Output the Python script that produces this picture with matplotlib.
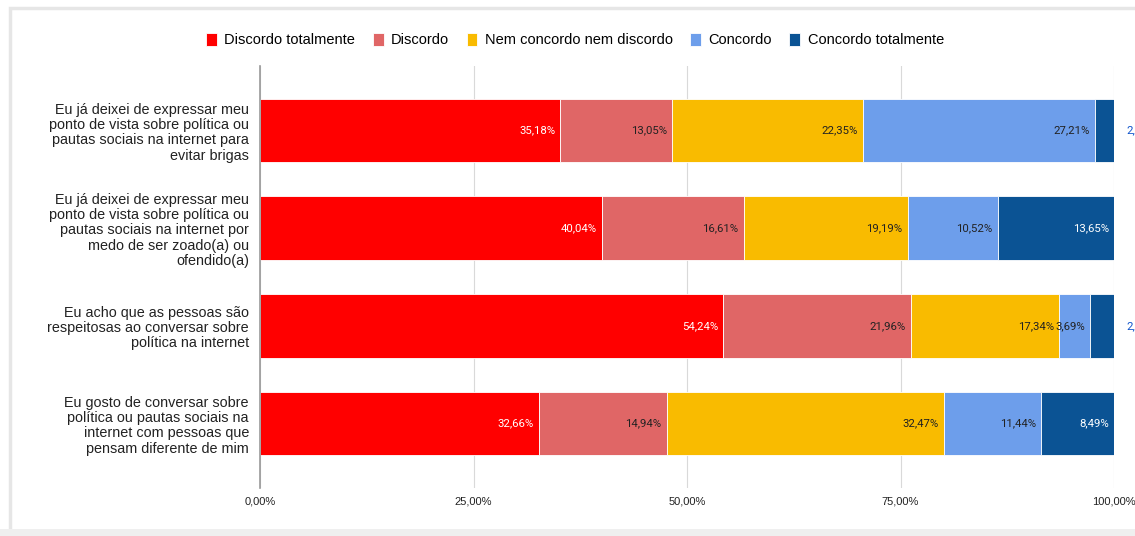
import matplotlib.pyplot as plt
from matplotlib.patches import Rectangle

# Data
perguntas = [
    "Eu já deixei de expressar meu\nponto de vista sobre política ou\npautas sociais na internet para\nevitar brigas",
    "Eu já deixei de expressar meu\nponto de vista sobre política ou\npautas sociais na internet por\nmedo de ser zoado(a) ou\nofendido(a)",
    "Eu acho que as pessoas são\nrespeitosas ao conversar sobre\npolítica na internet",
    "Eu gosto de conversar sobre\npolítica ou pautas sociais na\ninternet com pessoas que\npensam diferente de mim",
]
respostas = ["Discordo totalmente", "Discordo", "Nem concordo nem discordo",
             "Concordo", "Concordo totalmente"]
discordo_totalmente = [35.18, 40.04, 54.24, 32.66]
discordo = [13.05, 16.61, 21.96, 14.94]
neutro = [22.35, 19.19, 17.34, 32.47]
concordo = [27.21, 10.52, 3.69, 11.44]
concordo_totalmente = [2.21, 13.65, 2.77, 8.49]

series = [discordo_totalmente, discordo, neutro, concordo, concordo_totalmente]
cores = ["#ff0000", "#e06666", "#f9bb00", "#6d9eeb", "#0b5394"]
cores_texto = ["white", "#222222", "#222222", "#222222", "white"]

plt.rcParams['font.family'] = ['Liberation Sans', 'DejaVu Sans']

fig = plt.figure(figsize=(11.35, 5.36), dpi=100)
W, H = 1135, 536

# page frame around the chart
fig.patches.append(Rectangle((10 / W, 0), 1.2, 528 / H, transform=fig.transFigure,
                             facecolor="none", edgecolor="#e6e6e6", lw=2.5, zorder=0))
fig.patches.append(Rectangle((0, 0), 1, 7 / H, transform=fig.transFigure,
                             facecolor="#efefef", edgecolor="none", zorder=0))

ax = fig.add_axes([260 / W, 1 - 488 / H, (1114 - 260) / W, (488 - 66) / H])

y = list(range(len(perguntas)))
esquerda = [0] * len(perguntas)
for nome, vals, cor, ct in zip(respostas, series, cores, cores_texto):
    ax.barh(y, vals, left=esquerda, height=0.65, color=cor, label=nome,
            edgecolor="white", linewidth=0.6, zorder=3)
    for i, v in enumerate(vals):
        txt = f"{v:.2f}%".replace(".", ",")
        fim = esquerda[i] + v
        if v < 3:
            # small segments get their label outside the bar (cut at the edge)
            ax.text(101.4, i, txt, ha="left", va="center", fontsize=8.2,
                    color="#1155cc", family="Roboto", clip_on=False, zorder=4)
        else:
            ax.text(fim - 0.6, i, txt, ha="right", va="center", fontsize=8.2,
                    color=ct, family="Roboto", zorder=4)
    esquerda = [e + v for e, v in zip(esquerda, vals)]

ax.set_xlim(0, 100)
ax.set_ylim(3.66, -0.66)
ax.set_yticks(y)
ax.set_yticklabels(perguntas, fontsize=10.4, linespacing=1.12, color="#222222")
ax.set_xticks([0, 25, 50, 75, 100])
ax.set_xticklabels(["0,00%", "25,00%", "50,00%", "75,00%", "100,00%"],
                   fontsize=8, color="#222222")
ax.tick_params(axis="y", length=0, pad=8)
ax.tick_params(axis="x", length=0, pad=6)
ax.grid(axis="x", color="#d9d9d9", linewidth=0.8, zorder=0)
for s in ["top", "right", "bottom"]:
    ax.spines[s].set_visible(False)
ax.spines["left"].set_color("#999999")
ax.spines["left"].set_linewidth(1.2)
ax.spines["left"].set_zorder(5)

fig.legend(loc="center", bbox_to_anchor=(575 / W, 1 - 40 / H), ncol=5,
           frameon=False, fontsize=10.5, handlelength=0.75, handleheight=1.0,
           handletextpad=0.5, columnspacing=1.2)

fig.savefig("out.png", dpi=100)
